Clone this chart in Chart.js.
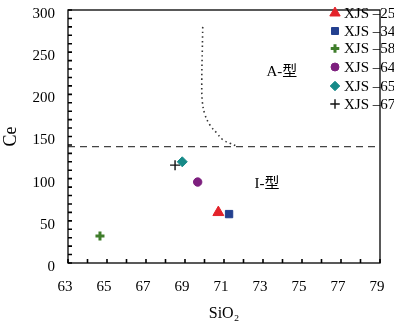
<!DOCTYPE html>
<html>
<head>
<meta charset="utf-8">
<script src="https://cdn.jsdelivr.net/npm/chart.js@4/dist/chart.umd.min.js"></script>
<style>
    html, body { margin: 0; padding: 0; background: #fff; }
</style>
</head>
<body>
<canvas id="ceChart" width="394" height="325"></canvas>
<script>
// sample points (SiO2 vs Ce)
const sampleNames = ['XJS –25', 'XJS –34', 'XJS –58', 'XJS –64', 'XJS –65', 'XJS –67'];
const sio2Values = [70.71, 71.26, 64.64, 69.65, 68.86, 68.49];
const ceValues = [60, 58, 32, 96, 120, 116];
const pointStyles = ['triangle', 'rect', 'cross', 'circle', 'rectRot', 'cross'];
const pointColors = ['#e3232a', '#23408f', '#3f7d2b', '#7d1f7e', '#168a88', '#111111'];
const pointSizes = [6.3, 5.2, 4.5, 4.2, 5, 5];

// dotted A/I boundary curve
const curveSiO2 = [69.91, 69.89, 69.86, 69.89, 70.03, 70.28, 70.63, 70.95, 71.3, 71.6];
const curveCe = [280, 255, 215, 191, 175.5, 163.6, 154, 146, 142, 139];

// dashed horizontal line
const boundaryCe = 138;
const xRange = [63, 79];
const yRange = [0, 300];

const fieldLabels = [
    { text: 'A-型', x: 73.97, y: 226 },
    { text: 'I-型', x: 73.2, y: 94 }
];

const serif = '"Liberation Serif", "Times New Roman", "Noto Sans CJK SC", serif';

const datasets = sampleNames.map((name, i) => ({
    label: name,
    data: [{ x: sio2Values[i], y: ceValues[i] }],
    pointStyle: pointStyles[i],
    pointRadius: pointSizes[i],
    backgroundColor: pointColors[i],
    borderColor: pointColors[i],
    borderWidth: pointStyles[i] === 'cross' ? (i === 2 ? 3 : 1.4) : 1,
    showLine: false
}));

datasets.push({
    label: 'curve',
    data: curveSiO2.map((x, i) => ({ x: x, y: curveCe[i] })),
    showLine: true,
    borderColor: '#333',
    borderWidth: 1.6,
    borderDash: [1.5, 3.2],
    pointRadius: 0,
    tension: 0.4
});

datasets.push({
    label: 'boundary',
    data: [{ x: xRange[0], y: boundaryCe }, { x: xRange[1], y: boundaryCe }],
    showLine: true,
    borderColor: '#444',
    borderWidth: 1.4,
    borderDash: [7, 5],
    pointRadius: 0
});

const framePlugin = {
    id: 'frame',
    afterDatasetsDraw(chart) {
        const { ctx, chartArea: a, scales: { x, y } } = chart;
        ctx.save();
        ctx.strokeStyle = '#000';
        ctx.lineWidth = 1.3;
        ctx.strokeRect(a.left, a.top, a.right - a.left, a.bottom - a.top);
        ctx.beginPath();
        ctx.lineWidth = 1.6;
        for (let v = xRange[0]; v <= xRange[1]; v++) {
            const px = x.getPixelForValue(v);
            ctx.moveTo(px, a.bottom);
            ctx.lineTo(px, a.bottom - 4);
        }
        for (let v = yRange[0]; v <= yRange[1]; v += 10) {
            const py = y.getPixelForValue(v);
            ctx.moveTo(a.left, py);
            ctx.lineTo(a.left + 4, py);
        }
        ctx.stroke();

        // field labels
        ctx.fillStyle = '#000';
        ctx.font = '15px ' + serif;
        ctx.textAlign = 'center';
        ctx.textBaseline = 'middle';
        fieldLabels.forEach(l => {
            ctx.fillText(l.text, x.getPixelForValue(l.x), y.getPixelForValue(l.y));
        });

        // legend
        const rowsY = [13, 31, 48.5, 67, 86, 104];
        sampleNames.forEach((name, i) => {
            if (Chart.helpers && Chart.helpers.drawPoint) {
                ctx.fillStyle = pointColors[i];
                ctx.strokeStyle = pointColors[i];
                ctx.lineWidth = pointStyles[i] === 'cross' ? (i === 2 ? 3 : 1.4) : 1;
                Chart.helpers.drawPoint(ctx, { pointStyle: pointStyles[i], radius: pointSizes[i] * 0.95, rotation: 0, borderWidth: ctx.lineWidth }, 335, rowsY[i]);
            }
            ctx.fillStyle = '#000';
            ctx.textAlign = 'left';
            ctx.font = '15px ' + serif;
            ctx.fillText(name, 344, rowsY[i] + 1);
        });
        ctx.restore();
    }
};

new Chart(document.getElementById('ceChart'), {
    type: 'scatter',
    data: { datasets: datasets },
    options: {
        responsive: false,
        animation: false,
        devicePixelRatio: 1,
        layout: { padding: { top: 10, right: 14, left: 0, bottom: 0 } },
        plugins: { legend: { display: false }, tooltip: { enabled: false } },
        scales: {
            x: {
                type: 'linear',
                min: xRange[0],
                max: xRange[1],
                grid: { display: false, drawTicks: false },
                border: { display: false },
                ticks: { stepSize: 2, color: '#000', font: { family: serif, size: 15 }, padding: 15, labelOffset: -3 },
                title: { display: true, text: 'SiO₂', color: '#000', font: { family: serif, size: 16 }, padding: { top: 0, bottom: 2 } },
                afterFit(scale) {
                    scale.height = 62;
                    scale.paddingLeft = 0;
                    scale.paddingRight = 0;
                }
            },
            y: {
                min: yRange[0],
                max: yRange[1],
                grid: { display: false, drawTicks: false },
                border: { display: false },
                ticks: { stepSize: 50, color: '#000', font: { family: serif, size: 15 }, padding: 13, labelOffset: 4 },
                title: { display: true, text: 'Ce', color: '#000', font: { family: serif, size: 18 }, padding: { top: 0, bottom: 2 } },
                afterFit(scale) {
                    scale.width = 68;
                    scale.paddingTop = 0;
                    scale.paddingBottom = 0;
                }
            }
        }
    },
    plugins: [framePlugin]
});
</script>
</body>
</html>
